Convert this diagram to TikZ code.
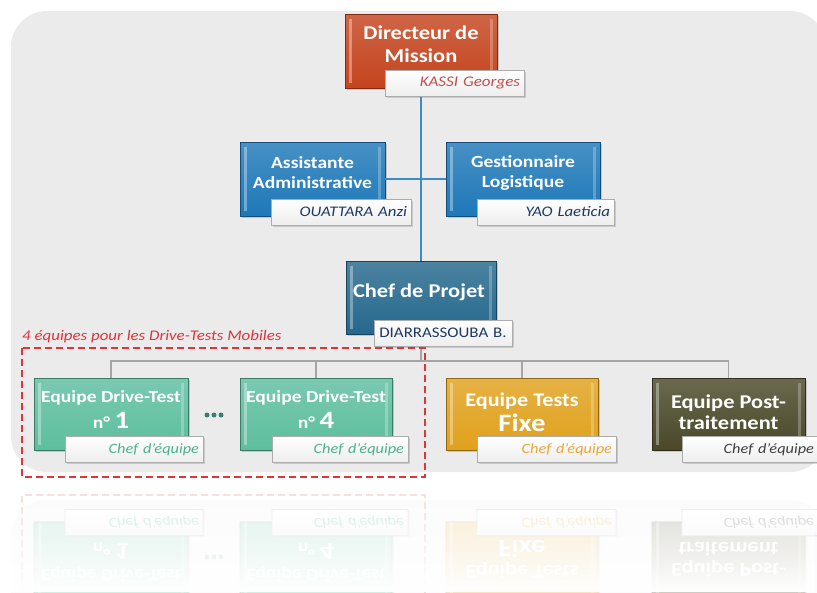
\documentclass[tikz,border=0pt]{standalone}
\usepackage{fontspec}
\setmainfont{Carlito}[FakeStretch=1.15]
\usetikzlibrary{shadows,fadings}
\definecolor{panelC}{HTML}{EBEBEB}
\definecolor{dirC}{HTML}{C4441E}
\definecolor{bluC}{HTML}{1E78B8}
\definecolor{chefC}{HTML}{25688C}
\definecolor{grnC}{HTML}{5DBE9E}
\definecolor{fixC}{HTML}{E0A11C}
\definecolor{postC}{HTML}{4A4828}
\definecolor{lineB}{HTML}{3A8CC4}
\definecolor{lineG}{HTML}{A5A5A5}
\definecolor{redD}{HTML}{E0333A}
\definecolor{nmRed}{HTML}{C0504D}
\definecolor{nmNavy}{HTML}{1F3864}
\definecolor{nmGrn}{HTML}{4FB092}
\definecolor{nmOr}{HTML}{E8A83A}
\definecolor{nmGray}{HTML}{404040}
\definecolor{dotC}{HTML}{3C7D72}
\tikzfading[name=reflfade, top color=transparent!100, bottom color=transparent!0]
\tikzset{
  bx/.style n args={3}{rectangle, inner sep=0pt, minimum width=#1, minimum height=#2,
    top color=#3!82!white, bottom color=#3, draw=#3!65!black, line width=0.6pt,
    drop shadow={shadow xshift=2pt, shadow yshift=-2pt, opacity=0.35},
    path picture={
      \fill[white,opacity=0.35] ([xshift=4pt,yshift=-5pt]path picture bounding box.north west) rectangle ([xshift=7pt,yshift=5pt]path picture bounding box.south west);
      \fill[white,opacity=0.25] ([xshift=-7pt,yshift=-5pt]path picture bounding box.north east) rectangle ([xshift=-4pt,yshift=5pt]path picture bounding box.south east);}},
  nm/.style n args={2}{rectangle, inner xsep=4pt, inner ysep=0pt, text width=#1, minimum height=26pt,
    align=right, top color=white, bottom color=gray!14, draw=gray!65, line width=0.6pt,
    drop shadow={shadow xshift=1.5pt, shadow yshift=-1.5pt, opacity=0.3},
    font=\itshape\fontsize{14.5}{16}\selectfont, text=#2},
  ttl/.style={text=white, align=center, inner sep=0pt},
  conB/.style={draw=lineB, line width=2pt},
  conG/.style={draw=lineG, line width=1.6pt},
  dotn/.style={circle, fill=dotC, inner sep=0pt, minimum size=5pt},
}
\newcommand\bottomrow{%
  \node[bx={154pt}{72pt}{grnC}] (dt1) at (111,414) {};
  \node[ttl, font=\bfseries\fontsize{17}{26}\selectfont] (dt1t) at (111,410) {Equipe Drive-Test\\ n° {\fontsize{25}{25}\selectfont 1}};
  \node[nm={130pt}{nmGrn}, font=\itshape\fontsize{14.2}{16}\selectfont] (dt1n) at (134,449.5) {Chef d’équipe};
  \node[dotn] (d1) at (207,415) {};
  \node[dotn] (d2) at (214,415) {};
  \node[dotn] (d3) at (221,415) {};
  \node[bx={152pt}{72pt}{grnC}] (dt4) at (316,414) {};
  \node[ttl, font=\bfseries\fontsize{17}{26}\selectfont] (dt4t) at (316,410) {Equipe Drive-Test\\ n° {\fontsize{25}{25}\selectfont 4}};
  \node[nm={128pt}{nmGrn}, font=\itshape\fontsize{14.2}{16}\selectfont] (dt4n) at (340,449.5) {Chef d’équipe};
  \node[bx={152pt}{72pt}{fixC}] (fixe) at (522,414) {};
  \node[ttl, font=\bfseries\fontsize{19.3}{25}\selectfont] (fixet) at (522,412) {Equipe Tests\\ {\fontsize{25}{25}\selectfont Fixe}};
  \node[nm={131pt}{nmOr}, font=\itshape\fontsize{14.2}{16}\selectfont] (fixen) at (546.5,449.5) {Chef d’équipe};
  \node[bx={153pt}{72pt}{postC}] (post) at (728.5,414) {};
  \node[ttl, font=\bfseries\fontsize{19.5}{21.5}\selectfont] (postt) at (728.5,412) {Equipe Post-\\traitement};
  \node[nm={128pt}{nmGray}, font=\itshape\fontsize{14.2}{16}\selectfont] (postn) at (750,449.5) {Chef d’équipe};
}
\begin{document}
\begin{tikzpicture}[x=1pt,y=-1pt]
\useasboundingbox (0,0) rectangle (817,592);
\clip (0,0) rectangle (817,592);
\fill[white] (0,0) rectangle (817,592);
% reflection
\begin{scope}[shift={(0,972)}, yscale=-1, every node/.append style={transform shape}]
  \begin{scope}[transparency group, opacity=0.28]
    \fill[panelC!70!white, rounded corners=36pt] (11,11) rectangle (826,472);
    \bottomrow
    \draw[redD, line width=1.4pt, dash pattern=on 7pt off 4pt] (22,348) rectangle (425,477);
  \end{scope}
\end{scope}
\fill[white, path fading=reflfade] (0,480) rectangle (817,592);
% panel
\fill[panelC, rounded corners=36pt] (11,11) rectangle (826,472);
% top boxes
\node[bx={152pt}{74pt}{dirC}] (dir) at (421,51) {};
\node[bx={145pt}{74pt}{bluC}] (asst) at (312.5,179) {};
\node[bx={154pt}{74pt}{bluC}] (gest) at (523,179) {};
\node[bx={150pt}{73pt}{chefC}] (chef) at (421,297.5) {};
\coordinate (bus) at (421,361);
% connectors
\draw[conB] (dir.south) -- (chef.north);
\draw[conB] (asst.east) -- (gest.west);
\node[ttl, font=\bfseries\fontsize{19.5}{22.5}\selectfont] (dirt) at (421,44) {Directeur de\\Mission};
\node[nm={131pt}{nmRed}, font=\itshape\fontsize{14.8}{16}\selectfont] (dirn) at (454.5,83) {KASSI Georges};
\node[ttl, font=\bfseries\fontsize{17}{20}\selectfont] (asstt) at (312.5,173) {Assistante\\Administrative};
\node[nm={132pt}{nmNavy}, font=\itshape\fontsize{14.6}{16}\selectfont] (asstn) at (341,212) {OUATTARA Anzi};
\node[ttl, font=\bfseries\fontsize{17}{20}\selectfont] (gestt) at (523,173) {Gestionnaire\\Logistique};
\node[nm={129pt}{nmNavy}, font=\itshape\fontsize{14.6}{16}\selectfont] (gestn) at (545.5,212) {YAO Laeticia};
\node[ttl, font=\bfseries\fontsize{19.5}{23}\selectfont] (cheft) at (419,292) {Chef de Projet};
\node[nm={130pt}{nmNavy}, font=\fontsize{14.7}{16}\selectfont, align=center] (chefn) at (443,333) {DIARRASSOUBA B.};
% bottom row
\bottomrow
% gray connectors
\draw[conG] (chefn.south -| bus) -- (bus);
\draw[conG] (dt1.north) |- (bus) -| (post.north);
\draw[conG] (dt4.north) -- (dt4.north |- bus);
\draw[conG] (fixe.north) -- (fixe.north |- bus);
% dashed group
\draw[redD, line width=1.4pt, dash pattern=on 7pt off 4pt] (22,348) rectangle (425,477);
\node[anchor=west, inner sep=0pt, text=redD, font=\itshape\fontsize{14.7}{16}\selectfont] (grp) at (22,337) {4 équipes pour les Drive-Tests Mobiles};
\end{tikzpicture}
\end{document}
